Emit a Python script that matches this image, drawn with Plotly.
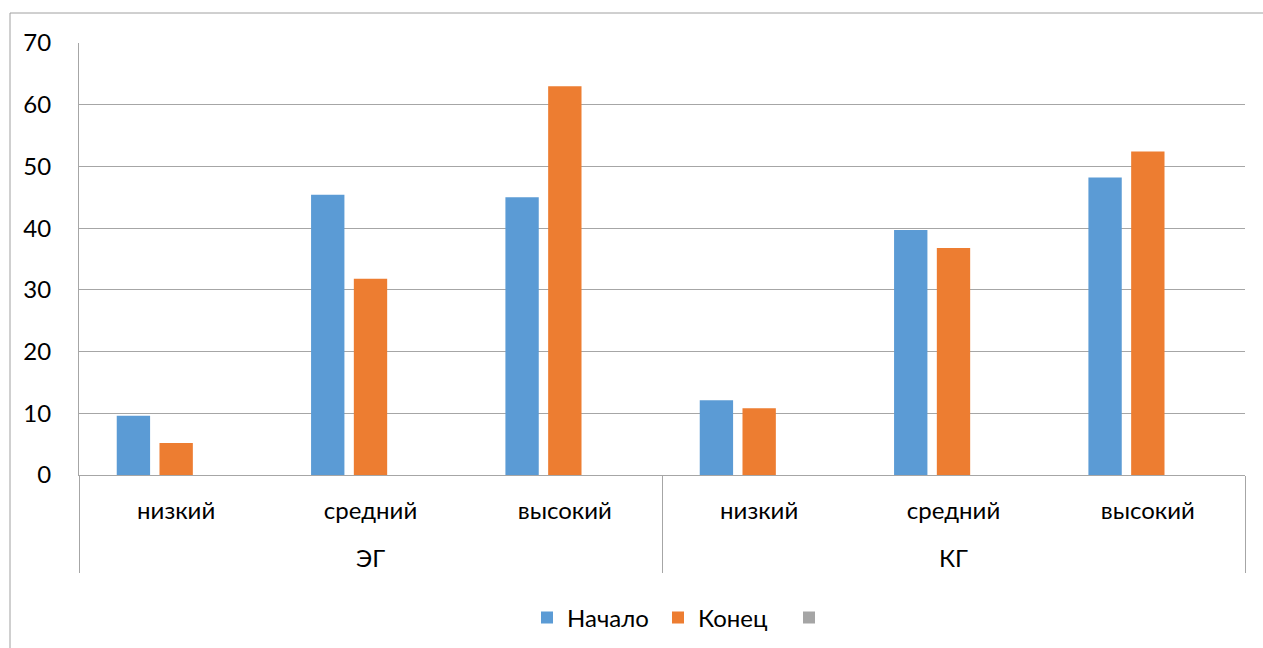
import plotly.graph_objects as go

# Groups and levels on the two-level category axis
groups = ["ЭГ", "ЭГ", "ЭГ", "КГ", "КГ", "КГ"]
levels = ["низкий", "средний", "высокий", "низкий", "средний", "высокий"]

# Percentages at the start and the end
start_vals = [9.6, 45.4, 45.0, 12.1, 39.7, 48.2]
end_vals = [5.2, 31.8, 63.0, 10.8, 36.8, 52.4]
third_vals = [None, None, None, None, None, None]

series_names = ["Начало", "Конец", " "]
series_colors = ["#5B9BD5", "#ED7D31", "#A5A5A5"]

FONT = "Lato, 'Open Sans', 'Noto Sans', sans-serif"
GRID = "#A6A6A6"
FS = 24

W, H = 1263, 648
ML, MR, MT, MB = 79, 18, 43, 173
PW, PH = W - ML - MR, H - MT - MB

# group names sit one line lower than the level names
group_labels = ["<br>" + g for g in groups]

fig = go.Figure()
for name, vals, col in zip(series_names, [start_vals, end_vals, third_vals], series_colors):
    fig.add_trace(go.Bar(
        x=[group_labels, levels], y=vals, name=name,
        marker=dict(color=col, line=dict(width=0)),
    ))

def px_x(p):
    return (p - ML) / PW

def px_y(p):
    return (H - MB - p) / PH

# Outer chart frame (top and left edges visible)
fig.add_shape(type="rect", xref="paper", yref="paper",
              x0=px_x(10), x1=px_x(W + 20), y0=px_y(H + 20), y1=px_y(13),
              line=dict(color="#A0A0A0", width=1), fillcolor="rgba(0,0,0,0)",
              layer="below")

fig.update_layout(
    width=W, height=H,
    margin=dict(l=ML, r=MR, t=MT, b=MB, autoexpand=False),
    paper_bgcolor="white", plot_bgcolor="white",
    barmode="group", bargap=0.34, bargroupgap=0.22,
    font=dict(family=FONT, size=FS, color="#000000"),
    showlegend=True,
    legend=dict(orientation="h", x=px_x(527), xanchor="left", y=px_y(618), yanchor="middle",
                font=dict(family=FONT, size=FS, color="#000000"),
                traceorder="normal", entrywidth=86, entrywidthmode="pixels"),
)
fig.update_xaxes(
    type="multicategory",
    showline=True, linecolor=GRID, linewidth=1,
    showgrid=False, ticks="",
    showdividers=True, dividercolor=GRID, dividerwidth=1,
    tickfont=dict(family=FONT, size=FS, color="#000000"),
    ticklabelstandoff=14,
)
fig.update_yaxes(
    range=[0, 70], dtick=10, tick0=0,
    showline=True, linecolor=GRID, linewidth=1,
    showgrid=True, gridcolor=GRID, gridwidth=1,
    zeroline=False, ticks="",
    tickfont=dict(family=FONT, size=FS, color="#000000"),
    ticklabelstandoff=22,
)

fig.write_html("out.html")
